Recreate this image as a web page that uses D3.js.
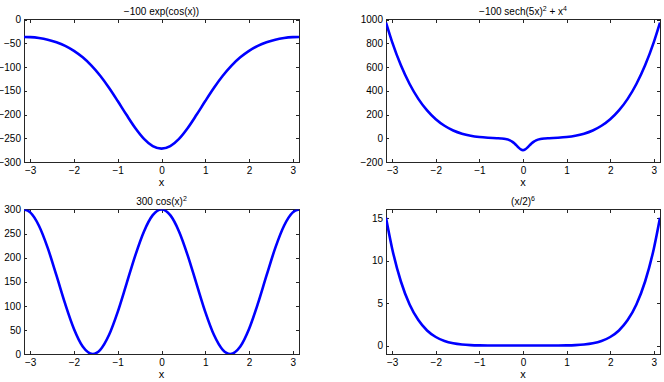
<!DOCTYPE html>
<html>
<head>
<meta charset="utf-8">
<script src="https://cdn.jsdelivr.net/npm/d3@7"></script>
<style>
  html, body { margin: 0; padding: 0; background: #fff; }
  svg { display: block; }
  text { font-family: "Liberation Sans", Arial, Helvetica, sans-serif; fill: #000; }
</style>
</head>
<body>
<svg id="chart" width="664" height="382"></svg>
<script>
// ---------------- DATA ----------------
const PI = 3.1416;
const xTicks = [-3, -2, -1, 0, 1, 2, 3];
const xTickLabels = ["\u22123", "\u22122", "\u22121", "0", "1", "2", "3"];

// Panel 1: −100 exp(cos(x))
const x1 = [-PI, -3.0, -2.8, -2.6, -2.4, -2.2, -2.0, -1.8, -1.6, -1.4, -1.2, -1.0, -0.8, -0.6, -0.4, -0.2, 0,
            0.2, 0.4, 0.6, 0.8, 1.0, 1.2, 1.4, 1.6, 1.8, 2.0, 2.2, 2.4, 2.6, 2.8, 3.0, PI];
const y1 = [-36.8, -37.2, -39.0, -42.4, -47.8, -55.5, -66.0, -79.7, -97.1, -118.5, -143.7, -171.7, -200.7, -228.3, -251.2, -266.5, -271.8,
            -266.5, -251.2, -228.3, -200.7, -171.7, -143.7, -118.5, -97.1, -79.7, -66.0, -55.5, -47.8, -42.4, -39.0, -37.2, -36.8];
const yTicks1 = [-300, -250, -200, -150, -100, -50, 0];

// Panel 2: −100 sech(5x)^2 + x^4
const x2 = [-PI, -3.0, -2.8, -2.6, -2.4, -2.2, -2.0, -1.8, -1.6, -1.4, -1.2, -1.0, -0.8, -0.6, -0.5, -0.4, -0.3, -0.25, -0.2, -0.15, -0.1, -0.05, 0,
            0.05, 0.1, 0.15, 0.2, 0.25, 0.3, 0.4, 0.5, 0.6, 0.8, 1.0, 1.2, 1.4, 1.6, 1.8, 2.0, 2.2, 2.4, 2.6, 2.8, 3.0, PI];
const y2 = [974.1, 810, 614.7, 457.0, 331.8, 234.3, 160, 105.0, 65.5, 38.4, 20.7, 10.0, 4.0, 0.3, -2.0, -6.8, -18.0, -28.0, -42.0, -59.7, -78.6, -94.0, -100,
            -94.0, -78.6, -59.7, -42.0, -28.0, -18.0, -6.8, -2.0, 0.3, 4.0, 10.0, 20.7, 38.4, 65.5, 105.0, 160, 234.3, 331.8, 457.0, 614.7, 810, 974.1];
const yTicks2 = [-200, 0, 200, 400, 600, 800, 1000];

// Panel 3: 300 cos(x)^2
const x3 = [-PI, -3.0, -2.8, -2.6, -2.4, -2.2, -2.0, -1.8, -1.5708, -1.4, -1.2, -1.0, -0.8, -0.6, -0.4, -0.2, 0,
            0.2, 0.4, 0.6, 0.8, 1.0, 1.2, 1.4, 1.5708, 1.8, 2.0, 2.2, 2.4, 2.6, 2.8, 3.0, PI];
const y3 = [300, 294.0, 266.3, 220.3, 163.1, 103.9, 52.0, 15.5, 0, 8.7, 39.4, 87.6, 145.6, 204.4, 254.5, 288.2, 300,
            288.2, 254.5, 204.4, 145.6, 87.6, 39.4, 8.7, 0, 15.5, 52.0, 103.9, 163.1, 220.3, 266.3, 294.0, 300];
const yTicks3 = [0, 50, 100, 150, 200, 250, 300];

// Panel 4: (x/2)^6
const x4 = [-PI, -3.0, -2.8, -2.6, -2.4, -2.2, -2.0, -1.8, -1.6, -1.4, -1.2, -1.0, -0.8, -0.6, -0.4, -0.2, 0,
            0.2, 0.4, 0.6, 0.8, 1.0, 1.2, 1.4, 1.6, 1.8, 2.0, 2.2, 2.4, 2.6, 2.8, 3.0, PI];
const y4 = [15.02, 11.39, 7.53, 4.83, 2.99, 1.77, 1.0, 0.531, 0.262, 0.118, 0.047, 0.0156, 0.0041, 0.0007, 0.0001, 0, 0,
            0, 0.0001, 0.0007, 0.0041, 0.0156, 0.047, 0.118, 0.262, 0.531, 1.0, 1.77, 2.99, 4.83, 7.53, 11.39, 15.02];
const yTicks4 = [0, 5, 10, 15];

// ---------------- LAYOUT ----------------
const panels = [
  { xs: x1, ys: y1, yDomain: [-300, 0], yTicks: yTicks1, box: [24, 19.5, 299, 162],
    title: [["\u2212100 exp(cos(x))", false]] },
  { xs: x2, ys: y2, yDomain: [-200, 1000], yTicks: yTicks2, box: [386, 19.5, 660, 162],
    title: [["\u2212100 sech(5x)", false], ["2", true], [" + x", false], ["4", true]] },
  { xs: x3, ys: y3, yDomain: [0, 300], yTicks: yTicks3, box: [24, 209.5, 299, 354],
    title: [["300 cos(x)", false], ["2", true]] },
  { xs: x4, ys: y4, yDomain: [-1, 16], yTicks: yTicks4, box: [386, 209.5, 660, 354],
    title: [["(x/2)", false], ["6", true]] }
];

const svg = d3.select("#chart");
const tickLen = 3;
const axisColor = "#262626";

panels.forEach((p, i) => {
  const [x0, yTop, x1b, yBot] = p.box;
  const xScale = d3.scaleLinear().domain([-PI, PI]).range([x0, x1b]);
  const yScale = d3.scaleLinear().domain(p.yDomain).range([yBot, yTop]);
  const g = svg.append("g");

  const clipId = "clip" + i;
  svg.append("defs").append("clipPath").attr("id", clipId)
    .append("rect").attr("x", x0).attr("y", yTop).attr("width", x1b - x0).attr("height", yBot - yTop);

  const xAxisB = d3.axisBottom(xScale).tickValues(xTicks).tickSizeInner(-tickLen).tickSizeOuter(0)
    .tickPadding(5).tickFormat((d, k) => xTickLabels[k]);
  const xAxisT = d3.axisTop(xScale).tickValues(xTicks).tickSizeInner(-tickLen).tickSizeOuter(0).tickFormat("");
  const yFmt = d => (d < 0 ? "\u2212" + Math.abs(d) : String(d));
  const yAxisL = d3.axisLeft(yScale).tickValues(p.yTicks).tickSizeInner(-tickLen).tickSizeOuter(0)
    .tickPadding(3).tickFormat(yFmt);
  const yAxisR = d3.axisRight(yScale).tickValues(p.yTicks).tickSizeInner(-tickLen).tickSizeOuter(0).tickFormat("");

  const styleAxis = sel => {
    sel.select(".domain").remove();
    sel.selectAll("line").attr("stroke", axisColor).attr("shape-rendering", "crispEdges");
    sel.selectAll("text").attr("font-size", 10).attr("fill", "#000")
      .attr("font-family", "'Liberation Sans', Arial, Helvetica, sans-serif");
  };
  g.append("g").attr("transform", `translate(0,${yBot})`).call(xAxisB).call(styleAxis);
  g.append("g").attr("transform", `translate(0,${yTop})`).call(xAxisT).call(styleAxis);
  g.append("g").attr("transform", `translate(${x0},0)`).call(yAxisL).call(styleAxis);
  g.append("g").attr("transform", `translate(${x1b},0)`).call(yAxisR).call(styleAxis);

  g.append("rect").attr("x", x0).attr("y", yTop).attr("width", x1b - x0).attr("height", yBot - yTop)
    .attr("fill", "none").attr("stroke", axisColor).attr("stroke-width", 1).attr("shape-rendering", "crispEdges");

  const data = p.xs.map((x, k) => [x, p.ys[k]]);
  const line = d3.line().x(d => xScale(d[0])).y(d => yScale(d[1])).curve(d3.curveMonotoneX);
  g.append("path").datum(data).attr("d", line)
    .attr("clip-path", `url(#${clipId})`)
    .attr("fill", "none").attr("stroke", "#0000ff").attr("stroke-width", 2.6)
    .attr("stroke-linejoin", "round");

  g.append("text").attr("x", (x0 + x1b) / 2).attr("y", yBot + 24).attr("text-anchor", "middle")
    .attr("font-size", 11).text("x");

  const t = g.append("text").attr("x", (x0 + x1b) / 2).attr("y", yTop - 5).attr("text-anchor", "middle")
    .attr("font-size", 10);
  let raised = false;
  p.title.forEach(([s, sup]) => {
    const ts = t.append("tspan").text(s);
    if (sup && !raised) { ts.attr("dy", -4).attr("font-size", 7); raised = true; }
    else if (sup && raised) { ts.attr("font-size", 7); }
    else if (!sup && raised) { ts.attr("dy", 4); raised = false; }
  });
});
</script>
</body>
</html>
